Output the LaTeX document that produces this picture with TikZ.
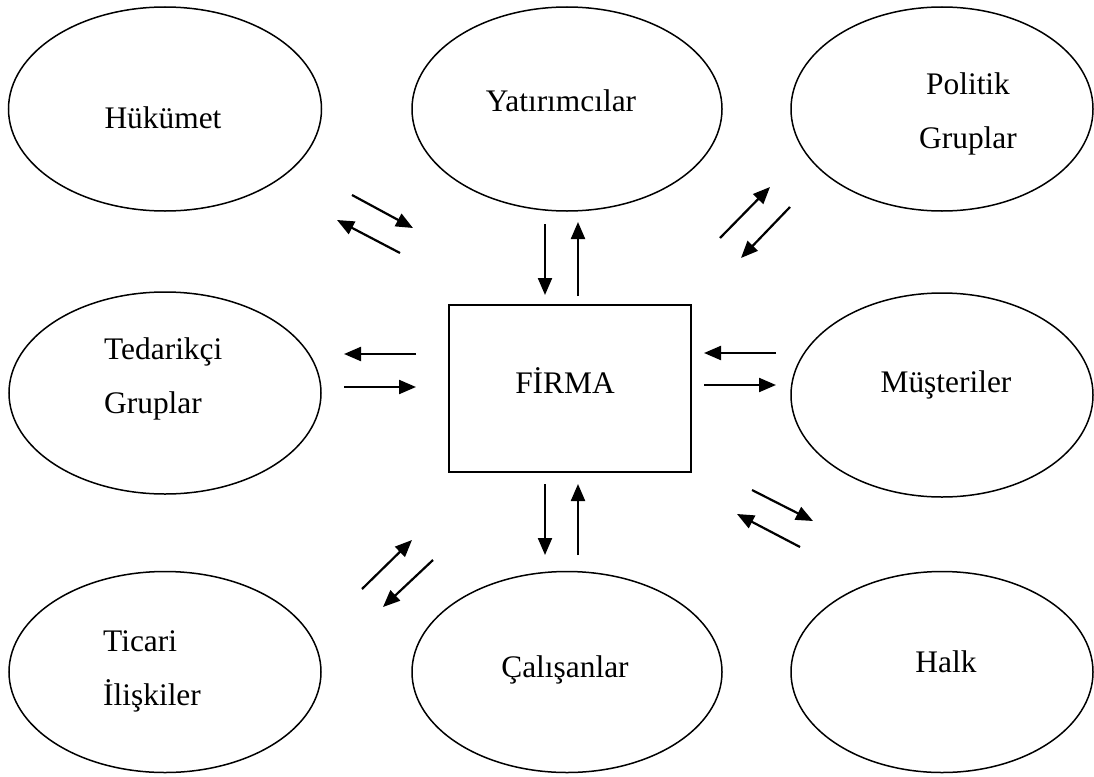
\documentclass[tikz,border=0pt]{standalone}
\usepackage{fontspec}
\setmainfont{Liberation Serif}
\usetikzlibrary{shapes.geometric,arrows.meta}
\tikzset{
  party/.style={draw, ellipse, line width=1.5pt, inner sep=0pt},
  lbl/.style={font=\fontsize{31.4}{38}\selectfont, inner sep=0pt},
  flow/.style={line width=2.2pt, -{Triangle[length=17pt,width=14pt]}},
  firmbox/.style={draw, rectangle, line width=1.5pt, inner sep=0pt}
}
\begin{document}
\begin{tikzpicture}[x=1pt,y=-1pt]
\useasboundingbox (0,0) rectangle (1094,776);
% ellipses
\node[party, minimum width=313pt, minimum height=204pt] (huk) at (165,109) {};
\node[party, minimum width=310pt, minimum height=204pt] (yat) at (567,109) {};
\node[party, minimum width=302pt, minimum height=204pt] (pol) at (942,109) {};
\node[party, minimum width=312pt, minimum height=202pt] (ted) at (165,393) {};
\node[party, minimum width=302pt, minimum height=204pt] (mus) at (942,395) {};
\node[party, minimum width=312pt, minimum height=201pt] (tic) at (165,672) {};
\node[party, minimum width=310pt, minimum height=201pt] (cal) at (567,672) {};
\node[party, minimum width=302pt, minimum height=201pt] (hal) at (942,672) {};
% firm box
\node[firmbox, minimum width=242pt, minimum height=167pt] (firm) at (570,388.5) {};
% labels
\node[lbl, anchor=base] (hukT) at (163,128) {Hükümet};
\node[lbl, anchor=base] (yatT) at (561,111) {Yatırımcılar};
\node[lbl, anchor=base] (polT1) at (968,94) {Politik};
\node[lbl, anchor=base] (polT2) at (968,148) {Gruplar};
\node[lbl, anchor=base west] (tedT1) at (104,359) {Tedarikçi};
\node[lbl, anchor=base west] (tedT2) at (104,413) {Gruplar};
\node[lbl, anchor=base] (musT) at (946,392) {Müşteriler};
\node[lbl, anchor=base west] (ticT1) at (103,651) {Ticari};
\node[lbl, anchor=base west] (ticT2) at (103,705) {İlişkiler};
\node[lbl, anchor=base] (calT) at (565,677) {Çalışanlar};
\node[lbl, anchor=base] (halT) at (946,672) {Halk};
\node[lbl, anchor=base] (firmT) at (565,393) {FİRMA};
% arrow end coordinates
\coordinate (h1s) at (352,195); \coordinate (h1e) at (413,228);
\coordinate (h2s) at (400,253); \coordinate (h2e) at (337,220);
\coordinate (y1s) at (545,224); \coordinate (y1e) at (545,295);
\coordinate (y2s) at (578,296); \coordinate (y2e) at (578,222);
\coordinate (p1s) at (720,238); \coordinate (p1e) at (770,187);
\coordinate (p2s) at (790,207); \coordinate (p2e) at (741,258);
\coordinate (t1s) at (416,354); \coordinate (t1e) at (344,354);
\coordinate (t2s) at (344,387); \coordinate (t2e) at (416,387);
\coordinate (m1s) at (776,353); \coordinate (m1e) at (704,353);
\coordinate (m2s) at (704,385); \coordinate (m2e) at (776,385);
\coordinate (c1s) at (545,484); \coordinate (c1e) at (545,555);
\coordinate (c2s) at (578,555); \coordinate (c2e) at (578,484);
\coordinate (r1s) at (362,589); \coordinate (r1e) at (412,540);
\coordinate (r2s) at (433,560); \coordinate (r2e) at (383,607);
\coordinate (k1s) at (752,490); \coordinate (k1e) at (813,521);
\coordinate (k2s) at (800,547); \coordinate (k2e) at (737,514);
% arrows
\foreach \a in {h1,h2,y1,y2,p1,p2,t1,t2,m1,m2,c1,c2,r1,r2,k1,k2}
  \draw[flow] (\a s) -- (\a e);
\end{tikzpicture}
\end{document}
